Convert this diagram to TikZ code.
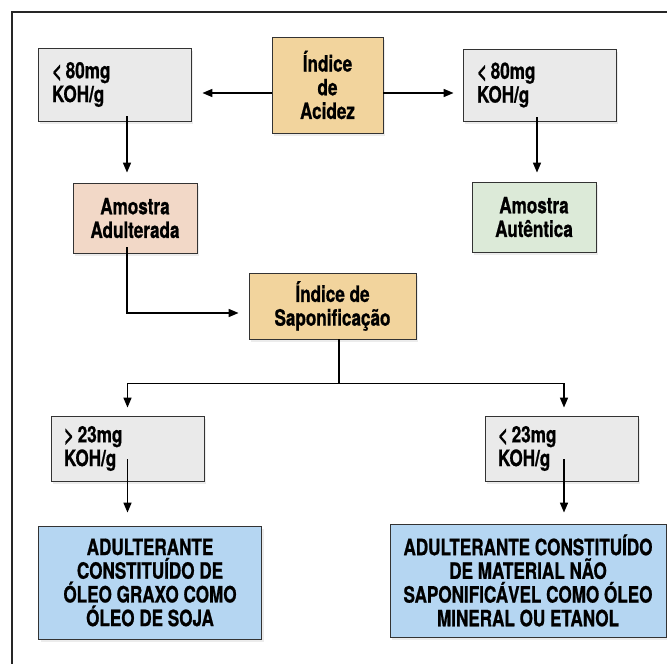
\documentclass[tikz,border=0pt]{standalone}
\usepackage{fontspec}
\setmainfont{TeX Gyre Heros}[FakeStretch=0.76,BoldFeatures={FakeBold=0.8}]
\usetikzlibrary{arrows.meta,shadows}
\definecolor{limgray}{HTML}{EAEAEA}
\definecolor{indtan}{HTML}{F2D49D}
\definecolor{adulpink}{HTML}{F2D8C7}
\definecolor{autgreen}{HTML}{DCEAD8}
\definecolor{resblue}{HTML}{B5D6F2}
\begin{document}
\begin{tikzpicture}[x=1pt,y=-1pt,
   box/.style={draw=black!80,line width=0.8pt,inner sep=0pt,
      font=\fontsize{22.5}{23.7}\selectfont\bfseries,
      drop shadow={opacity=0.15,shadow xshift=2pt,shadow yshift=-3pt}},
   limite/.style={box,fill=limgray,minimum width=153pt,text width=125pt,align=left},
   etapa/.style={box,fill=indtan,align=center},
   amostra/.style={box,minimum width=124pt,minimum height=70pt,align=center},
   resultado/.style={box,fill=resblue,minimum height=113pt,align=center},
   flow/.style={line width=1.6pt,-{Triangle[length=10pt,width=8pt]}}]
   \useasboundingbox (0,0) rectangle (667,664);
   % Frame
   \draw[line width=1.5pt,black!85] (12,664) -- (12,12) -- (667,12);
   % Acidity index
   \node[etapa,minimum width=111pt,minimum height=96pt] (acidez) at (327.5,85) {Índice\\de\\Acidez};
   \node[limite,minimum height=73pt] (lo1) at (114.5,84.5) {<\,80mg\\KOH/g};
   \node[limite,minimum height=72pt] (lo2) at (539.5,85) {<\,80mg\\KOH/g};
   % Samples
   \node[amostra,fill=adulpink] (adult) at (135,218) {Amostra\\Adulterada};
   \node[amostra,fill=autgreen] (autent) at (534,217) {Amostra\\Autêntica};
   % Saponification index
   \node[etapa,minimum width=167pt,minimum height=66pt] (sapon) at (332.5,306) {Índice de\\Saponificação};
   \node[limite,minimum height=65pt,text width=127pt] (sup) at (127.5,448.5) {>\,23mg\\KOH/g};
   \node[limite,minimum height=65pt,text width=127pt] (inf) at (561.5,448.5) {<\,23mg\\KOH/g};
   % Adulterants
   \node[resultado,minimum width=223pt] (oleo) at (150,582.5) {ADULTERANTE\\CONSTITUÍDO DE\\ÓLEO GRAXO COMO\\ÓLEO DE SOJA};
   \node[resultado,minimum width=276pt] (mineral) at (528,580.5) {ADULTERANTE CONSTITUÍDO\\DE MATERIAL NÃO\\SAPONIFICÁVEL COMO ÓLEO\\MINERAL OU ETANOL};
   % Arrows
   \draw[flow,shorten >=11pt] ([yshift=-8pt]acidez.west) -- ([yshift=-8pt]acidez.west -| lo1.east);
   \draw[flow,shorten >=9pt] ([yshift=-8pt]acidez.east) -- ([yshift=-8pt]acidez.east -| lo2.west);
   \draw[flow,shorten >=10pt] ([xshift=12.5pt,yshift=5pt]lo1.south) -- ([xshift=12.5pt]lo1.south |- adult.north);
   \draw[flow,shorten >=9pt] ([xshift=-2.5pt,yshift=4pt]lo2.south) -- ([xshift=-2.5pt]lo2.south |- autent.north);
   \draw[flow,shorten >=10pt] ([xshift=-8pt,yshift=6pt]adult.south) |- ([yshift=-7pt]sapon.west);
   \draw[line width=1.6pt] ([xshift=6.5pt]sapon.south) -- ++(0,44) coordinate (ramo);
   \draw[flow,shorten >=8pt] (ramo) -| (sup.north);
   \draw[flow,shorten >=8pt] (ramo) -| ([xshift=2.5pt]inf.north);
   \draw[flow,shorten >=13pt] ([yshift=22pt]sup.south) -- (sup.south |- oleo.north);
   \draw[flow,shorten >=11pt] ([xshift=2.5pt,yshift=22pt]inf.south) -- ([xshift=2.5pt]inf.south |- mineral.north);
\end{tikzpicture}
\end{document}
